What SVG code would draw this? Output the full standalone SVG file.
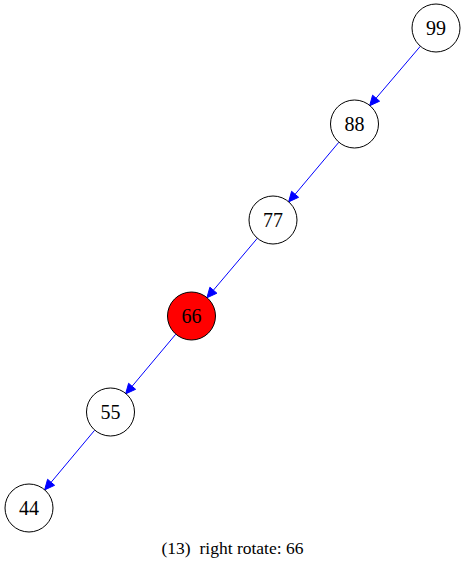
<svg xmlns="http://www.w3.org/2000/svg" width="465" height="569" viewBox="0 0 465 569">
<style>
.n{fill:#fff;stroke:#000;stroke-width:1}
.r{fill:#ff0000;stroke:#000;stroke-width:1}
.t{font-family:"Liberation Serif","Times New Roman",serif;font-size:20px;text-anchor:middle;fill:#000}
.c{font-family:"Liberation Serif","Times New Roman",serif;font-size:17.5px;text-anchor:middle;fill:#000}
.e{stroke:#0000ff;stroke-width:1;fill:none}
.h{fill:#0000ff;stroke:#0000ff;stroke-width:1}
</style>
<rect width="465" height="569" fill="#fff"/>
<g id="edges">
<g id="e99_88"><line class="e" x1="420.4" y1="46.2" x2="376.1" y2="98.2"/><polygon class="h" points="369.6,105.8 372.6,95.2 379.6,101.2"/></g>
<g id="e88_77"><line class="e" x1="338.8" y1="142.3" x2="295.1" y2="194.3"/><polygon class="h" points="288.6,201.9 291.6,191.3 298.6,197.3"/></g>
<g id="e77_66"><line class="e" x1="257.4" y1="238.2" x2="213.4" y2="290.2"/><polygon class="h" points="206.9,297.8 209.9,287.2 216.9,293.2"/></g>
<g id="e66_55"><line class="e" x1="175.7" y1="334.3" x2="132.1" y2="386.3"/><polygon class="h" points="125.6,393.9 128.6,383.3 135.6,389.3"/></g>
<g id="e55_44"><line class="e" x1="94.6" y1="430.3" x2="51.1" y2="482.3"/><polygon class="h" points="44.6,489.9 47.6,479.3 54.6,485.3"/></g>
</g>
<g id="n99"><circle class="n" cx="436" cy="28" r="24"/><text class="t" x="436" y="35">99</text></g>
<g id="n88"><circle class="n" cx="354.5" cy="124" r="24"/><text class="t" x="354.5" y="131">88</text></g>
<g id="n77"><circle class="n" cx="273" cy="220" r="24"/><text class="t" x="273" y="227">77</text></g>
<g id="n66"><circle class="r" cx="191.5" cy="316" r="24"/><text class="t" x="191.5" y="323">66</text></g>
<g id="n55"><circle class="n" cx="110.5" cy="412" r="24"/><text class="t" x="110.5" y="419">55</text></g>
<g id="n44"><circle class="n" cx="29" cy="508" r="24"/><text class="t" x="29" y="515">44</text></g>
<text class="c" x="232.5" y="554" xml:space="preserve">(13)  right rotate: 66</text>
</svg>
